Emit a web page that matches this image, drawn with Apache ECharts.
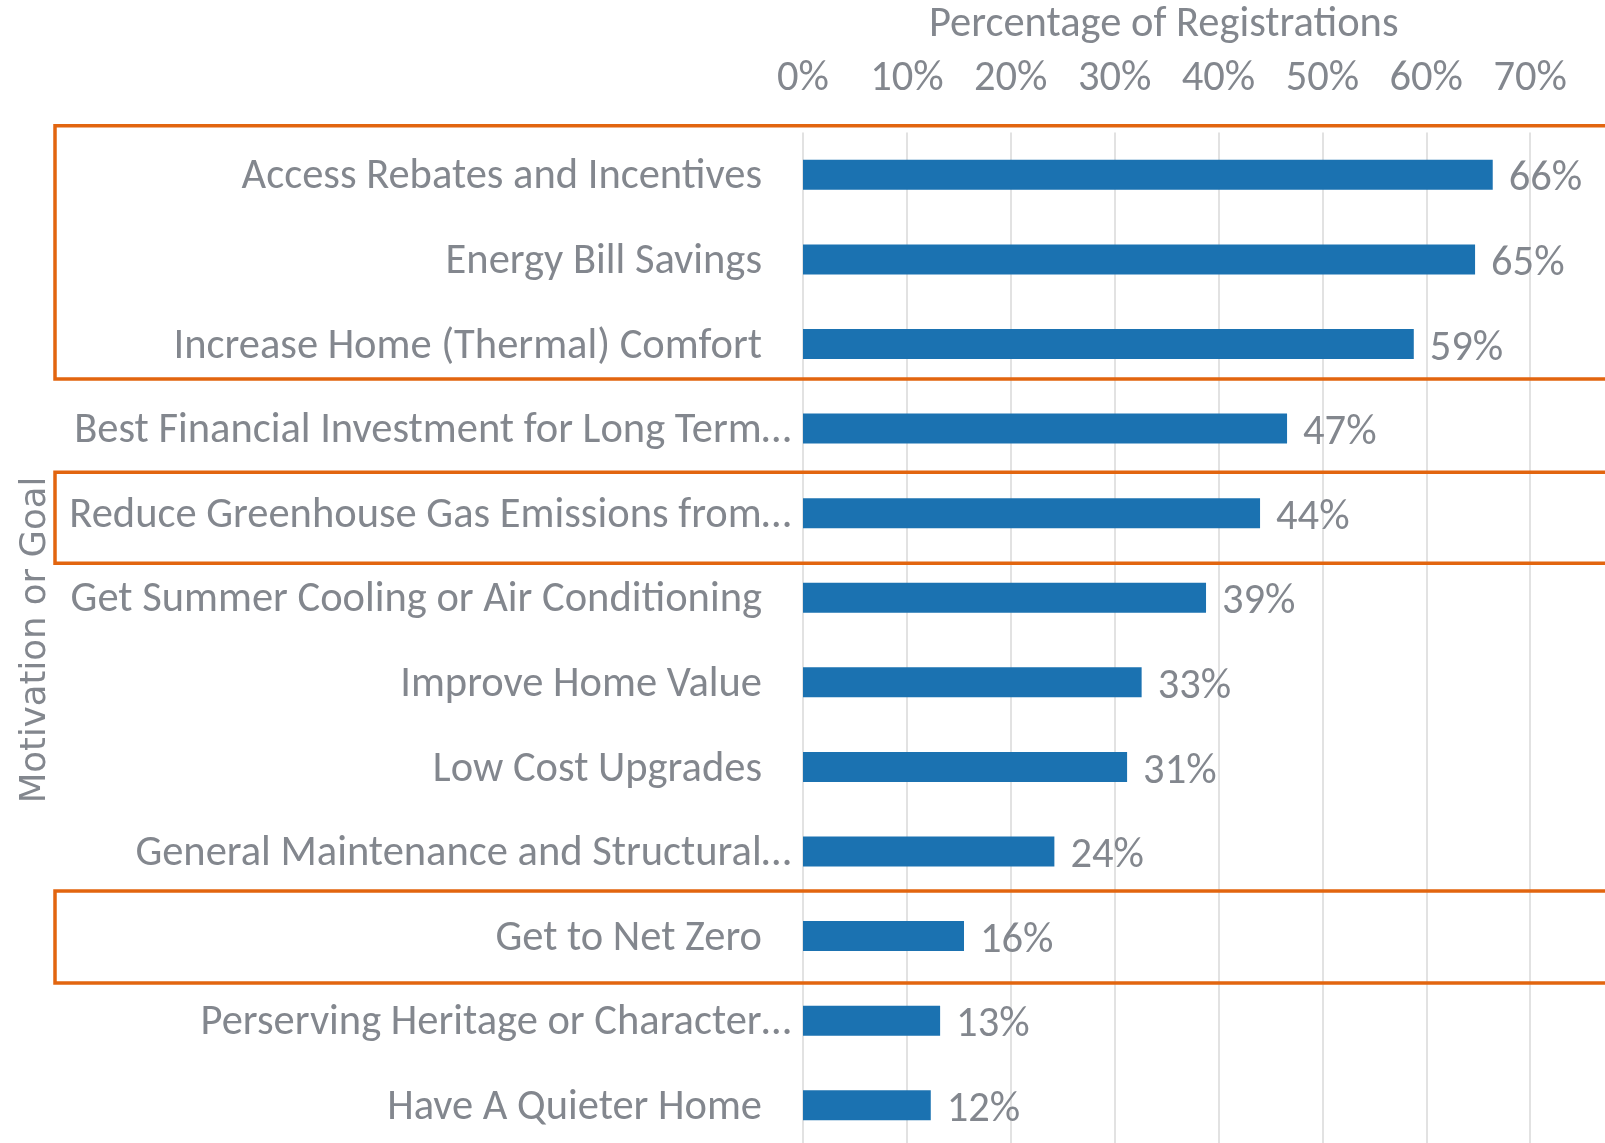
<!DOCTYPE html>
<html>
<head>
<meta charset="utf-8">
<title>Motivation or Goal</title>
<script src="https://cdn.jsdelivr.net/npm/echarts@6/dist/echarts.min.js"></script>
<style>
    html, body { margin: 0; padding: 0; background: #fff; }
    #main { width: 1605px; height: 1143px; }
</style>
</head>
<body>
<div id="main"></div>
<script>
// categories, top to bottom
var categories = [
    'Access Rebates and Incentives',
    'Energy Bill Savings',
    'Increase Home (Thermal) Comfort',
    'Best Financial Investment for Long Term\u2026',
    'Reduce Greenhouse Gas Emissions from\u2026',
    'Get Summer Cooling or Air Conditioning',
    'Improve Home Value',
    'Low Cost Upgrades',
    'General Maintenance and Structural\u2026',
    'Get to Net Zero',
    'Perserving Heritage or Character\u2026',
    'Have A Quieter Home'
];

// percentage of registrations
var values = [66.4, 64.7, 58.8, 46.6, 44.0, 38.8, 32.6, 31.2, 24.2, 15.5, 13.2, 12.3];

// x axis ticks (percent)
var xTicks = [0, 10, 20, 30, 40, 50, 60, 70, 80];

// categories framed in orange: [first, last]
var highlights = [[0, 2], [4, 4], [9, 9]];

var FONT = 'Carlito, Calibri, "Open Sans", sans-serif';
var GREY = '#83878e';
var SIZE = 42.5;

var chart = echarts.init(document.getElementById('main'));

chart.setOption({
    animation: false,
    title: {
        text: 'Percentage of Registrations',
        left: 929,
        top: 4,
        padding: 0,
        textStyle: { fontFamily: FONT, fontSize: SIZE, fontWeight: 'normal', color: GREY }
    },
    grid: {
        left: 803, right: -29, top: 132.5, bottom: -4.5,
        containLabel: false,
        outerBoundsMode: 'none'
    },
    xAxis: {
        type: 'value',
        position: 'top',
        min: xTicks[0],
        max: xTicks[xTicks.length - 1],
        interval: xTicks[1] - xTicks[0],
        axisLine: { show: false },
        axisTick: { show: false },
        axisLabel: {
            formatter: '{value}%',
            margin: 32,
            showMaxLabel: false,
            fontFamily: FONT, fontSize: SIZE, color: GREY
        },
        splitLine: { lineStyle: { color: '#e2e2e2', width: 2 } }
    },
    yAxis: {
        type: 'category',
        inverse: true,
        data: categories,
        name: 'Motivation or Goal',
        nameLocation: 'middle',
        nameRotate: 90,
        nameGap: 749,
        nameTextStyle: { fontFamily: '"DejaVu Sans", sans-serif', fontSize: 35.5, color: GREY },
        axisLine: { show: false },
        axisTick: { show: false },
        axisLabel: {
            interval: 0,
            margin: 12,
            formatter: function (v) {
                // truncated labels run closer to the axis, like the original
                return /\u2026$/.test(v) ? '{e|' + v + '}' : '{n|' + v + '}';
            },
            rich: {
                n: { fontFamily: FONT, fontSize: SIZE, color: GREY, padding: [6, 29, 0, 0] },
                e: { fontFamily: FONT, fontSize: SIZE, color: GREY, padding: [6, 0, 0, 0] }
            }
        }
    },
    series: [{
        type: 'bar',
        data: values,
        barWidth: 30,
        itemStyle: { color: '#1b72b1' },
        label: {
            show: true,
            position: 'right',
            distance: 16,
            offset: [0, 5],
            formatter: function (p) { return Math.round(p.value) + '%'; },
            fontFamily: FONT, fontSize: SIZE, color: GREY
        }
    }]
});

// orange frames around highlighted categories (hand drawn in the original,
// so each has its own space above / below the bar centres)
var framePad = [[49, 35], [41, 50], [45, 47]];
var boxes = highlights.map(function (h, i) {
    var y0 = chart.convertToPixel({ yAxisIndex: 0 }, categories[h[0]]);
    var y1 = chart.convertToPixel({ yAxisIndex: 0 }, categories[h[1]]);
    var top = y0 - framePad[i][0];
    return {
        type: 'rect',
        shape: { x: 55, y: top, width: 1580, height: y1 + framePad[i][1] - top },
        style: { fill: 'none', stroke: '#e2650f', lineWidth: 3.5 },
        z: 10
    };
});
chart.setOption({ graphic: boxes });
</script>
</body>
</html>
